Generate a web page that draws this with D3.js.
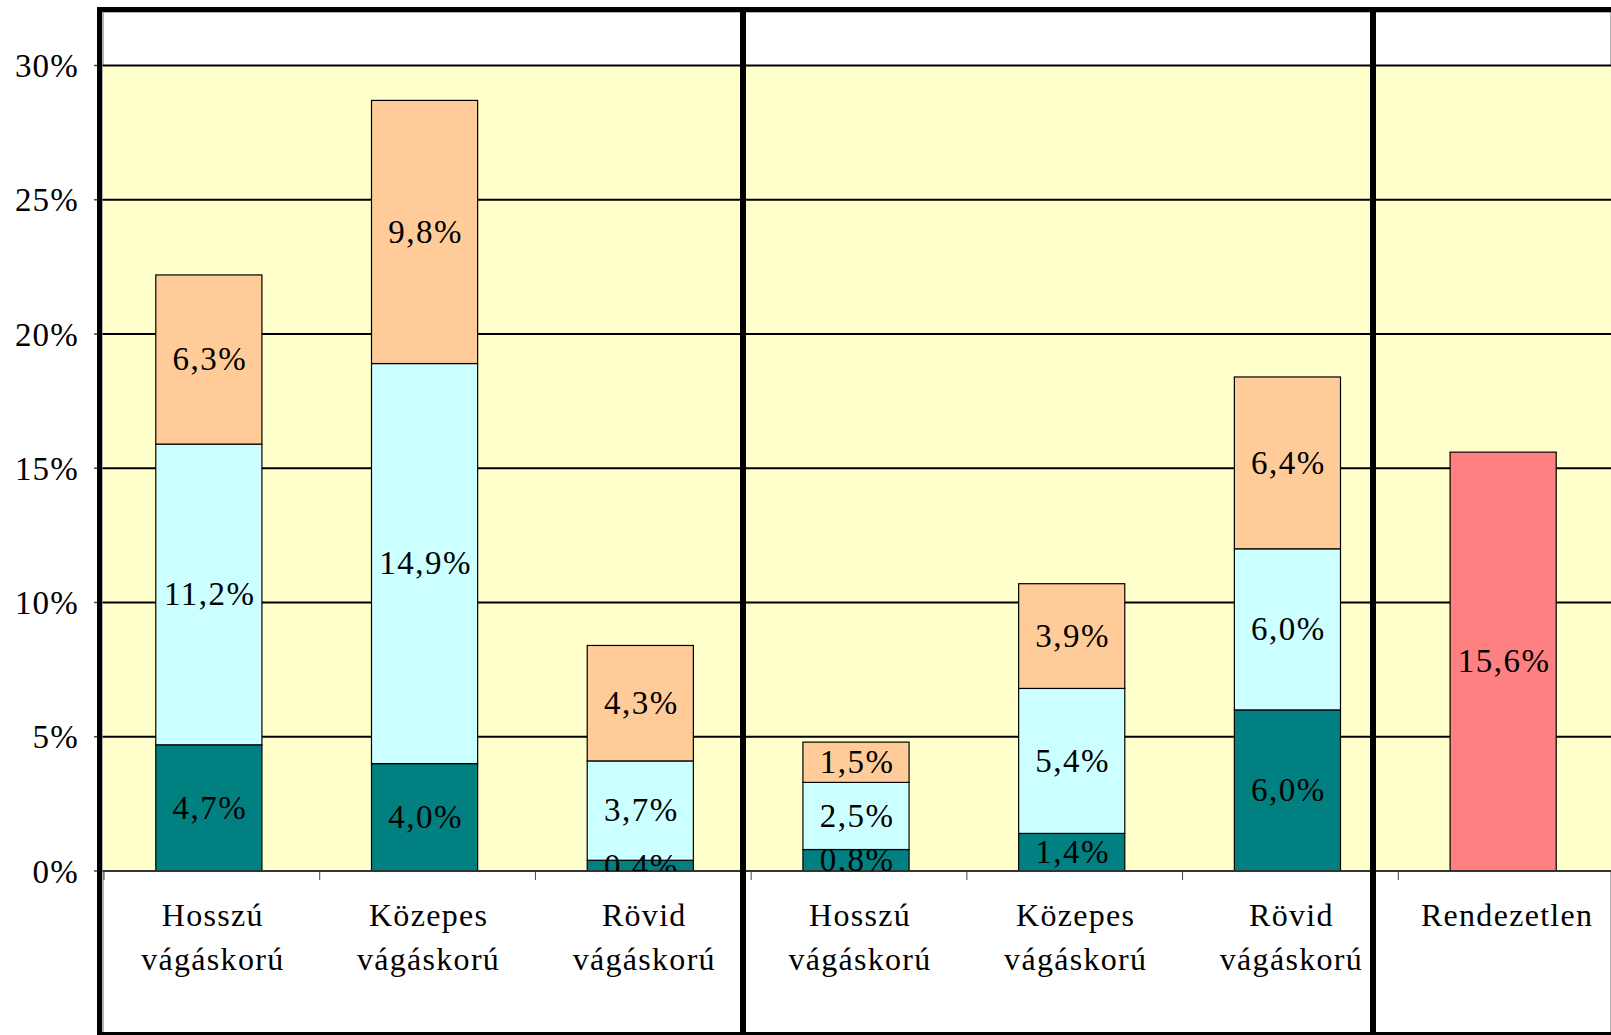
<!DOCTYPE html>
<html>
<head>
<meta charset="utf-8">
<script src="https://d3js.org/d3.v7.min.js"></script>
<style>
  body { margin: 0; background: #fff; }
  text { font-family: "Liberation Serif", "Times New Roman", serif; fill: #000; }
</style>
</head>
<body>
<script>
// categories (two lines each), groups repeat so index is used as key
var categories = [
    ["Hosszú", "vágáskorú"], ["Közepes", "vágáskorú"], ["Rövid", "vágáskorú"],
    ["Hosszú", "vágáskorú"], ["Közepes", "vágáskorú"], ["Rövid", "vágáskorú"],
    ["Rendezetlen"]
];
var tealValues  = [4.7, 4.0, 0.4, 0.8, 1.4, 6.0, 0];
var cyanValues  = [11.2, 14.9, 3.7, 2.5, 5.4, 6.0, 0];
var peachValues = [6.3, 9.8, 4.3, 1.5, 3.9, 6.4, 0];
var pinkValues  = [0, 0, 0, 0, 0, 0, 15.6];
var yTicks = [0, 5, 10, 15, 20, 25, 30];

var seriesKeys = ["teal", "cyan", "peach", "pink"];
var colors = {teal: "#008080", cyan: "#CCFFFF", peach: "#FFCC99", pink: "#FF8080"};

var width = 1611, height = 1035;
var plotTop = 65.5, plotBottom = 871, plotLeft = 103;
var separators = [743, 1373];

var rows = categories.map(function(c, i) {
    return {i: i, teal: tealValues[i], cyan: cyanValues[i], peach: peachValues[i], pink: pinkValues[i]};
});

var svg = d3.select("body").append("svg")
    .attr("width", width)
    .attr("height", height);

var x = d3.scaleBand()
    .domain(d3.range(categories.length))
    .range([101, 1611])
    .paddingInner(0.508)
    .paddingOuter(0.254);

var y = d3.scaleLinear()
    .domain([0, 30])
    .range([plotBottom, plotTop]);

var locale = d3.formatLocale({decimal: ",", thousands: " ", grouping: [3], currency: ["", ""]});
var fmt = locale.format(".1f");

// white area + thin inner border
svg.append("rect")
    .attr("x", plotLeft).attr("y", 12)
    .attr("width", width - plotLeft).attr("height", height - 12)
    .attr("fill", "#fff").attr("stroke", "#666").attr("stroke-width", 1);

// plot area
svg.append("rect")
    .attr("x", plotLeft).attr("y", plotTop)
    .attr("width", width - plotLeft).attr("height", plotBottom - plotTop)
    .attr("fill", "#FFFFCC");

// gridlines
svg.append("g").selectAll("line")
    .data(yTicks.filter(function(d) { return d > 0; }))
    .enter().append("line")
    .attr("x1", plotLeft).attr("x2", width)
    .attr("y1", function(d) { return y(d); })
    .attr("y2", function(d) { return y(d); })
    .attr("stroke", "#000").attr("stroke-width", 2);

// y axis ticks + labels
var yAxis = svg.append("g");
yAxis.selectAll("line")
    .data(yTicks).enter().append("line")
    .attr("x1", 94).attr("x2", plotLeft)
    .attr("y1", function(d) { return y(d); })
    .attr("y2", function(d) { return y(d); })
    .attr("stroke", "#444").attr("stroke-width", 1.5);
yAxis.selectAll("text")
    .data(yTicks).enter().append("text")
    .attr("x", 79)
    .attr("y", function(d) { return y(d); })
    .attr("dy", "0.35em")
    .attr("text-anchor", "end")
    .style("font-size", "33px")
    .style("letter-spacing", "1.2px")
    .text(function(d) { return d + "%"; });

// stacked bars
var stack = d3.stack().keys(seriesKeys);
var series = stack(rows);

var bars = svg.append("g");
series.forEach(function(s) {
    bars.selectAll("rect." + s.key)
        .data(s.filter(function(d) { return d[1] - d[0] > 0; }))
        .enter().append("rect")
        .attr("class", s.key)
        .attr("x", function(d) { return x(d.data.i); })
        .attr("width", x.bandwidth())
        .attr("y", function(d) { return y(d[1]); })
        .attr("height", function(d) { return y(d[0]) - y(d[1]); })
        .attr("fill", colors[s.key])
        .attr("stroke", "#000").attr("stroke-width", 1.2);
});

// x axis line + ticks
svg.append("line")
    .attr("x1", plotLeft).attr("x2", width)
    .attr("y1", plotBottom).attr("y2", plotBottom)
    .attr("stroke", "#333").attr("stroke-width", 2);
svg.append("g").selectAll("line")
    .data(d3.range(categories.length + 1))
    .enter().append("line")
    .attr("x1", function(d) { return 104 + d * x.step(); })
    .attr("x2", function(d) { return 104 + d * x.step(); })
    .attr("y1", plotBottom).attr("y2", plotBottom + 9)
    .attr("stroke", "#444").attr("stroke-width", 1);

// value labels, clipped to plot area
svg.append("clipPath").attr("id", "plotclip")
    .append("rect")
    .attr("x", plotLeft).attr("y", plotTop)
    .attr("width", width - plotLeft).attr("height", plotBottom - plotTop);

var labels = svg.append("g").attr("clip-path", "url(#plotclip)");
series.forEach(function(s) {
    labels.selectAll("text." + s.key)
        .data(s.filter(function(d) { return d[1] - d[0] > 0; }))
        .enter().append("text")
        .attr("class", s.key)
        .attr("x", function(d) { return x(d.data.i) + x.bandwidth() / 2 + 1; })
        .attr("y", function(d) { return (y(d[0]) + y(d[1])) / 2; })
        .attr("dy", "0.33em")
        .attr("text-anchor", "middle")
        .style("font-size", "33px")
        .style("letter-spacing", "1.5px")
        .text(function(d) { return fmt(d[1] - d[0]) + "%"; });
});

// category labels
var catG = svg.append("g").selectAll("text")
    .data(categories)
    .enter().append("text")
    .attr("text-anchor", "middle")
    .style("font-size", "32px")
    .style("letter-spacing", "1.3px");
catG.selectAll("tspan")
    .data(function(d, i) { return d.map(function(t) { return {t: t, i: i}; }); })
    .enter().append("tspan")
    .attr("x", function(d) { return x(d.i) + x.bandwidth() / 2 + 4; })
    .attr("y", function(d, j) { return 926 + j * 44; })
    .text(function(d) { return d.t; });

// thick frame and group separators
var frame = svg.append("g").attr("fill", "#000");
frame.append("rect").attr("x", 97).attr("y", 7).attr("width", width - 97).attr("height", 5);
frame.append("rect").attr("x", 97).attr("y", 7).attr("width", 5).attr("height", height - 7);
frame.append("rect").attr("x", 97).attr("y", 1032).attr("width", width - 97).attr("height", 5);
frame.selectAll("rect.sep")
    .data(separators).enter().append("rect")
    .attr("class", "sep")
    .attr("x", function(d) { return d - 3; })
    .attr("y", 7).attr("width", 6).attr("height", height - 7);
</script>
</body>
</html>
